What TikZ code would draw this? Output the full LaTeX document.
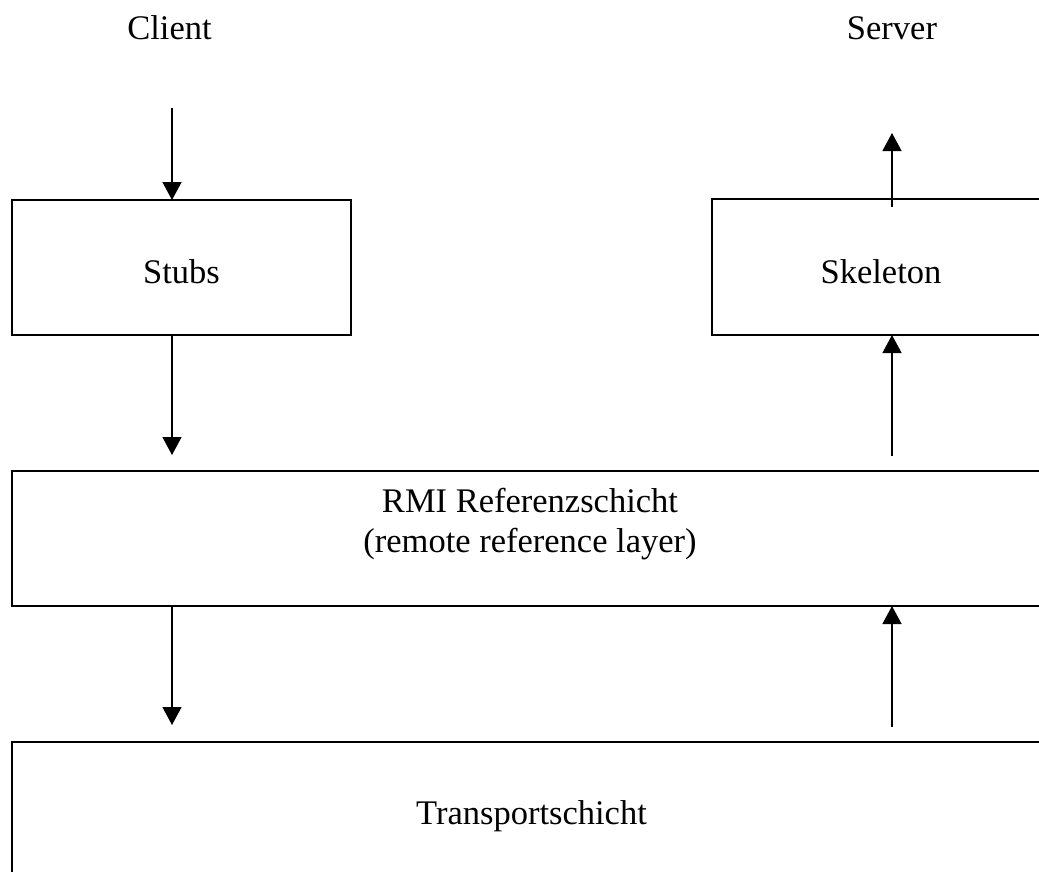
\documentclass[tikz,border=0pt]{standalone}
\usepackage{fontspec}
\setmainfont{Liberation Serif}
\usetikzlibrary{arrows.meta}
\begin{document}
\begin{tikzpicture}[x=1pt,y=-1pt,
  layerbox/.style={draw,line width=1.6pt,inner sep=0pt,outer sep=0pt},
  lbl/.style={font=\fontsize{34.5}{36}\selectfont,anchor=base,inner sep=0pt},
  flow/.style={line width=1.3pt,-{Triangle[width=19pt,length=18pt]}}]
\useasboundingbox (0,0) rectangle (1039,871);
\clip (0,0) rectangle (1039,871);
\fill[white] (0,0) rectangle (1039,871);
% boxes
\node[layerbox,minimum width=339pt,minimum height=135pt] (stubs) at (181.5,267.5) {};
\node[layerbox,minimum width=339pt,minimum height=136pt] (skel) at (881.5,267) {};
\node[layerbox,minimum width=1039pt,minimum height=135pt] (rmi) at (531.5,538.5) {};
\node[layerbox,minimum width=1039pt,minimum height=135pt] (trans) at (531.5,809.5) {};
% texts
\node[lbl] (client) at (169.5,39.5) {Client};
\node[lbl] (server) at (892,39.5) {Server};
\node[lbl] (tstubs) at (181.5,283) {Stubs};
\node[lbl] (tskel) at (881,283) {Skeleton};
\node[lbl] (trmi1) at (530,512) {RMI Referenzschicht};
\node[lbl] (trmi2) at (530,552) {(remote reference layer)};
\node[lbl] (ttrans) at (531.5,824) {Transportschicht};
% connector end points
\coordinate (cin) at (172,108);
\coordinate (cstubtip) at (172,455);
\coordinate (crmitip) at (172,725);
\coordinate (ctransup) at (892,727);
\coordinate (crmiup) at (892,456);
\coordinate (cskelup) at (892,207);
\coordinate (cout) at (892,133);
% arrows
\draw[flow] (cin) -- (cin |- stubs.north);
\draw[flow] (cstubtip |- stubs.south) -- (cstubtip);
\draw[flow] (crmitip |- rmi.south) -- (crmitip);
\draw[flow] (ctransup) -- (ctransup |- rmi.south);
\draw[flow] (crmiup) -- (crmiup |- skel.south);
\draw[flow] (cskelup) -- (cout);
\end{tikzpicture}
\end{document}
